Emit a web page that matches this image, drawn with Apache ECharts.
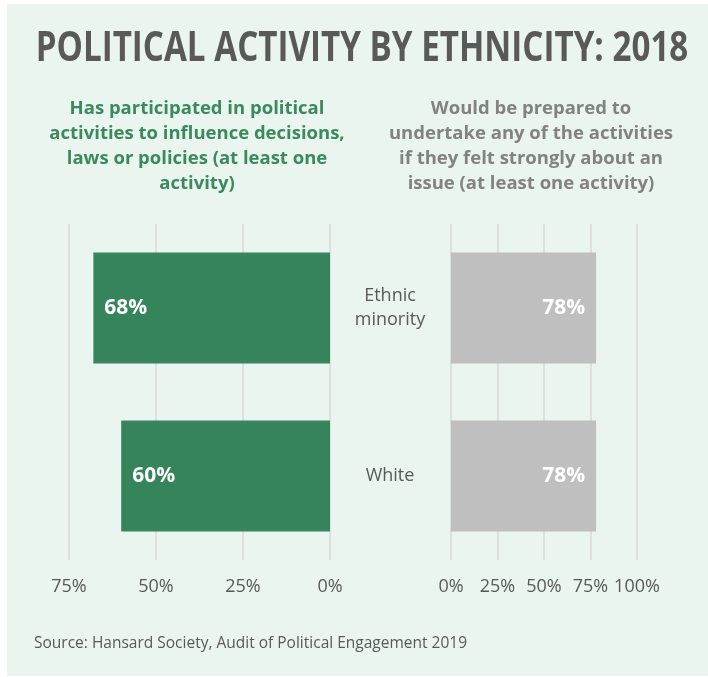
<!DOCTYPE html>
<html>
<head>
<meta charset="utf-8">
<script src="https://cdn.jsdelivr.net/npm/echarts@6/dist/echarts.min.js"></script>
<style>
html,body{margin:0;padding:0;background:#ffffff;}
#chart{width:708px;height:677px;}
</style>
</head>
<body>
<div id="chart"></div>
<script>
var titleText = 'POLITICAL ACTIVITY BY ETHNICITY: 2018';
var leftHeading = 'Has participated in political\nactivities to influence decisions,\nlaws or policies (at least one\nactivity)';
var rightHeading = 'Would be prepared to\nundertake any of the activities\nif they felt strongly about an\nissue (at least one activity)';
var sourceText = 'Source: Hansard Society, Audit of Political Engagement 2019';
var categories = ['Ethnic\nminority', 'White'];
var participated = [68, 60];
var prepared = [78, 78];
var leftTickMax = 75;
var rightTickMax = 100;
var tickStep = 25;

var FONT = '"Open Sans", "Noto Sans", sans-serif';
var chart = echarts.init(document.getElementById('chart'), null, {renderer: 'canvas'});
var gridLine = {show: true, lineStyle: {color: '#dcdfdc', width: 2}};
var option = {
  backgroundColor: '#ffffff',
  animation: false,
  graphic: [
    {type: 'rect', shape: {x: 7, y: 4, width: 701, height: 672}, style: {fill: '#ebf5ef'}, z: -10},
    {type: 'text', x: 362, y: 49, scaleX: 0.79, style: {text: titleText, font: 'bold 42px ' + FONT, fill: '#595959', textAlign: 'center', textVerticalAlign: 'middle'}},
    {type: 'text', x: 197, y: 96, style: {text: leftHeading, font: 'bold 18.5px ' + FONT, fill: '#3a8a5e', textAlign: 'center', textVerticalAlign: 'top', lineHeight: 25}},
    {type: 'text', x: 531, y: 96, style: {text: rightHeading, font: 'bold 18.5px ' + FONT, fill: '#828282', textAlign: 'center', textVerticalAlign: 'top', lineHeight: 25}},
    {type: 'text', x: 34, y: 644, style: {text: sourceText, font: '15.5px ' + FONT, fill: '#595959', textAlign: 'left', textVerticalAlign: 'middle'}}
  ],
  grid: [
    {left: 69, width: 261, top: 224, height: 336},
    {left: 451, width: 186, top: 224, height: 336}
  ],
  xAxis: [
    {gridIndex: 0, type: 'value', inverse: true, min: 0, max: leftTickMax, interval: tickStep,
     axisLine: {show: false}, axisTick: {show: false}, splitLine: gridLine,
     axisLabel: {formatter: '{value}%', fontFamily: FONT, fontSize: 18, color: '#595959', margin: 18}},
    {gridIndex: 1, type: 'value', min: 0, max: rightTickMax, interval: tickStep,
     axisLine: {show: false}, axisTick: {show: false}, splitLine: gridLine,
     axisLabel: {formatter: '{value}%', fontFamily: FONT, fontSize: 18, color: '#595959', margin: 18}}
  ],
  yAxis: [
    {gridIndex: 0, type: 'category', data: categories, inverse: true,
     axisLine: {show: false}, axisTick: {show: false}, axisLabel: {show: false}},
    {gridIndex: 1, type: 'category', data: categories, inverse: true,
     axisLine: {show: false}, axisTick: {show: false},
     axisLabel: {fontFamily: FONT, fontSize: 18, color: '#595959', align: 'center', margin: 61, lineHeight: 24}}
  ],
  series: [
    {type: 'bar', xAxisIndex: 0, yAxisIndex: 0, data: participated, barWidth: '66%',
     itemStyle: {color: '#36845b'},
     label: {show: true, position: 'insideLeft', distance: 11, formatter: '{c}%', color: '#ffffff', fontFamily: FONT, fontWeight: 'bold', fontSize: 21}},
    {type: 'bar', xAxisIndex: 1, yAxisIndex: 1, data: prepared, barWidth: '66%',
     itemStyle: {color: '#bfbfbf'},
     label: {show: true, position: 'insideRight', distance: 11, formatter: '{c}%', color: '#ffffff', fontFamily: FONT, fontWeight: 'bold', fontSize: 21}}
  ]
};
chart.setOption(option);
</script>
</body>
</html>
